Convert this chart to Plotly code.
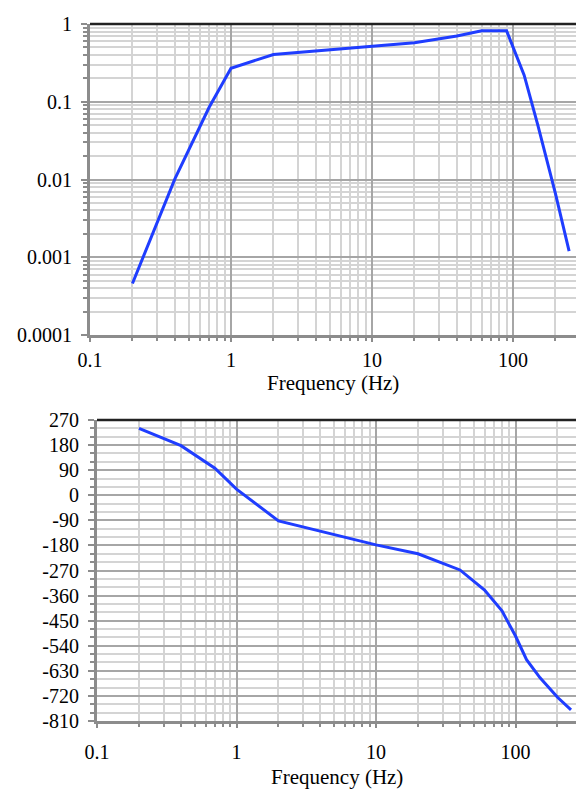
import plotly.graph_objects as go

# Magnitude response
mag_freq = [0.2, 0.4, 0.7, 1, 2, 10, 20, 40, 60, 90, 120, 150, 200, 250]
mag_vals = [0.00046, 0.0102, 0.085, 0.27, 0.405, 0.51, 0.575, 0.70, 0.82, 0.82, 0.22, 0.05, 0.0066, 0.0012]

# Phase response (degrees)
ph_freq = [0.2, 0.4, 0.7, 1, 2, 10, 20, 40, 60, 80, 100, 120, 150, 200, 250]
ph_vals = [240, 178, 97, 22, -92, -178, -210, -268, -340, -415, -505, -590, -655, -725, -770]

mag_tickvals = [0.0001, 0.001, 0.01, 0.1, 1]
mag_ticktext = ["0.0001", "0.001", "0.01", "0.1", "1"]
freq_tickvals = [0.1, 1, 10, 100]
freq_ticktext = ["0.1", "1", "10", "100"]
ph_tickvals = list(range(270, -811, -90))
ph_ticktext = [str(v) for v in ph_tickvals]
x_title = "Frequency (Hz)"

FONT = "Liberation Serif, Times New Roman, serif"
LINE = "#1f3dff"
MAJOR = "#a6a6a6"
MINOR = "#d4d4d4"
AXIS = "#8c8c8c"
TICK_SIZE = 20
TITLE_SIZE = 21

W, H = 576, 792

fig = go.Figure()
fig.add_trace(go.Scatter(x=mag_freq, y=mag_vals, mode="lines",
                         line=dict(color=LINE, width=3), xaxis="x", yaxis="y",
                         showlegend=False))
fig.add_trace(go.Scatter(x=ph_freq, y=ph_vals, mode="lines",
                         line=dict(color=LINE, width=3), xaxis="x2", yaxis="y2",
                         showlegend=False))


def log_x(left_px, right_val, standoff):
    return dict(
        type="log", range=[-1, right_val], domain=[left_px / W, 1],
        tickvals=freq_tickvals, ticktext=freq_ticktext,
        showgrid=True, gridcolor=MAJOR, gridwidth=2,
        showline=True, linecolor=AXIS, linewidth=3,
        ticks="outside", ticklen=4, tickcolor=AXIS, tickwidth=2,
        ticklabelstandoff=standoff,
        minor=dict(dtick="D1", showgrid=True, gridcolor=MINOR, gridwidth=2,
                   ticks="outside", ticklen=3, tickcolor=AXIS, tickwidth=1.5),
        tickfont=dict(family=FONT, size=TICK_SIZE, color="black"),
        zeroline=False, automargin=False,
    )


def lin_or_log_y(**kw):
    base = dict(
        showgrid=True, gridcolor=MAJOR, gridwidth=2,
        showline=True, linecolor=AXIS, linewidth=3,
        ticks="outside", ticklen=6, tickcolor=AXIS, tickwidth=2,
        ticklabelstandoff=5,
        tickfont=dict(family=FONT, size=TICK_SIZE, color="black"),
        zeroline=False, automargin=False,
    )
    base.update(kw)
    return base


fig.update_layout(
    width=W, height=H,
    margin=dict(l=0, r=0, t=0, b=0, autoexpand=False),
    paper_bgcolor="white", plot_bgcolor="white",
    xaxis=dict(log_x(90, -1 + (576 - 90) / 141, 1), anchor="y"),
    yaxis=lin_or_log_y(
        type="log", range=[-4, 0], domain=[(H - 335) / H, (H - 24) / H], anchor="x",
        tickvals=mag_tickvals, ticktext=mag_ticktext,
        minor=dict(dtick="D1", showgrid=True, gridcolor=MINOR, gridwidth=2,
                   ticks="outside", ticklen=4, tickcolor=AXIS, tickwidth=1.5),
    ),
    xaxis2=dict(log_x(97, -1 + (576 - 97) / 139.5, 7), anchor="y2"),
    yaxis2=lin_or_log_y(
        range=[-810, 270], domain=[(H - 721) / H, (H - 420) / H], anchor="x2",
        tickvals=ph_tickvals, ticktext=ph_ticktext,
        minor=dict(dtick=30, showgrid=True, gridcolor=MINOR, gridwidth=2,
                   ticks="outside", ticklen=4, tickcolor=AXIS, tickwidth=1.5),
    ),
    shapes=[
        dict(type="line", xref="x domain", yref="y domain", x0=0, x1=1, y0=1, y1=1,
             line=dict(color="#222222", width=2.5)),
        dict(type="line", xref="x2 domain", yref="y2 domain", x0=0, x1=1, y0=1, y1=1,
             line=dict(color="#222222", width=2.5)),
    ],
    annotations=[
        dict(text=x_title, xref="x domain", yref="paper", x=0.5, y=(H - 383) / H,
             xanchor="center", yanchor="middle", showarrow=False,
             font=dict(family=FONT, size=TITLE_SIZE, color="black")),
        dict(text=x_title, xref="x2 domain", yref="paper", x=0.5, y=(H - 777) / H,
             xanchor="center", yanchor="middle", showarrow=False,
             font=dict(family=FONT, size=TITLE_SIZE, color="black")),
    ],
)

fig.write_html("out.html")
